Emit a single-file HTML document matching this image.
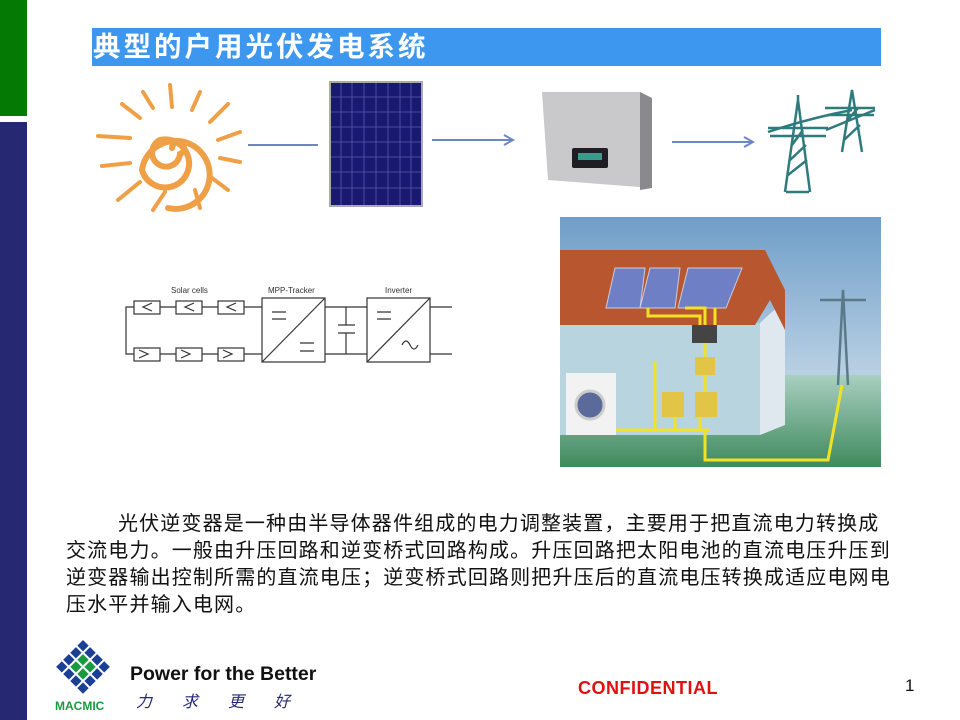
<!DOCTYPE html>
<html><head><meta charset="utf-8"><style>
*{margin:0;padding:0}
body{width:960px;height:720px;position:relative;background:#fff;overflow:hidden;font-family:"Liberation Sans","Noto Sans CJK SC",sans-serif}
.abs{position:absolute}
#para{position:absolute;left:66px;top:511px;font-size:20px;line-height:27px;letter-spacing:1.15px;color:#111;white-space:nowrap;font-family:"Liberation Sans","WenQuanYi Zen Hei","Noto Sans CJK SC",sans-serif}
</style></head><body>
<div class="abs" style="left:0;top:0;width:27px;height:116px;background:#047a04"></div>
<div class="abs" style="left:0;top:122px;width:27px;height:598px;background:#262872"></div>
<div class="abs" style="left:92px;top:28px;width:789px;height:38px;background:#3d97ee"></div>
<div class="abs" style="left:93px;top:29px;font-size:27.5px;font-weight:bold;color:#fff;letter-spacing:3px;line-height:36px;font-family:'Liberation Sans','Noto Sans CJK SC',sans-serif">典型的户用光伏发电系统</div>

<svg class="abs" style="left:0;top:0" width="960" height="500">
<g stroke="#ef9f45" stroke-linecap="round" fill="none">
<path d="M172 148 a6 6 0 1 1 8 6 a14 14 0 1 1 -20 -14 a24 24 0 1 1 -18 30 a34 34 0 1 1 26 38" stroke-width="6"/>
<g stroke-width="4">
<line x1="172" y1="107" x2="170" y2="85"/><line x1="192" y1="110" x2="200" y2="92"/><line x1="210" y1="122" x2="228" y2="104"/>
<line x1="218" y1="140" x2="240" y2="132"/><line x1="220" y1="158" x2="240" y2="162"/><line x1="212" y1="178" x2="228" y2="190"/>
<line x1="195" y1="190" x2="200" y2="208"/><line x1="165" y1="192" x2="153" y2="210"/><line x1="140" y1="182" x2="118" y2="200"/>
<line x1="130" y1="163" x2="102" y2="166"/><line x1="130" y1="138" x2="98" y2="136"/><line x1="140" y1="118" x2="122" y2="104"/>
<line x1="153" y1="108" x2="143" y2="92"/></g></g>
<line x1="248" y1="145" x2="318" y2="145" stroke="#6f86c4" stroke-width="2"/>
<rect x="330" y="82" width="92" height="124" fill="#1a1970" stroke="#aaa" stroke-width="2"/>
<g stroke="#5a5ab0" stroke-width="0.8">
<line x1="341" y1="83" x2="341" y2="205"/><line x1="352" y1="83" x2="352" y2="205"/><line x1="364" y1="83" x2="364" y2="205"/><line x1="376" y1="83" x2="376" y2="205"/><line x1="388" y1="83" x2="388" y2="205"/><line x1="400" y1="83" x2="400" y2="205"/><line x1="411" y1="83" x2="411" y2="205"/>
<line x1="331" y1="97" x2="421" y2="97"/><line x1="331" y1="112" x2="421" y2="112"/><line x1="331" y1="127" x2="421" y2="127"/><line x1="331" y1="142" x2="421" y2="142"/><line x1="331" y1="157" x2="421" y2="157"/><line x1="331" y1="172" x2="421" y2="172"/><line x1="331" y1="188" x2="421" y2="188"/>
</g>
<g stroke="#6f86c4" stroke-width="2" fill="none"><line x1="432" y1="140" x2="512" y2="140"/><path d="M504 135 L513 140 L504 145"/>
<line x1="672" y1="142" x2="752" y2="142"/><path d="M744 137 L753 142 L744 147"/></g>
<path d="M542 92 L640 92 L652 98 L652 188 L548 180 Z" fill="#c9c9cb"/>
<path d="M640 92 L652 98 L652 188 L640 190 Z" fill="#8a8a8e"/>
<rect x="572" y="148" width="36" height="20" rx="2" fill="#1e1e24"/>
<rect x="578" y="153" width="24" height="7" fill="#3a9a8c"/>
<g stroke="#2e7b7e" stroke-width="2.5" fill="none">
<path d="M785 192 L798 100 L810 192 M788 175 L807 160 M790 160 L806 145 M792 145 L803 130 M786 192 L809 192"/>
<path d="M768 128 L828 128 M770 136 L826 136 M798 100 L798 95"/>
<path d="M842 152 L852 90 L862 152 M844 140 L860 125 M846 122 L858 108 M825 108 L875 108 M828 115 L874 115"/>
<path d="M768 132 Q810 118 852 110 M826 130 Q850 120 875 110"/>
</g>
<g stroke="#333" stroke-width="1.2" fill="none">
<text x="171" y="293" font-size="8" fill="#333" stroke="none" font-family="Liberation Sans">Solar cells</text>
<text x="268" y="293" font-size="8" fill="#333" stroke="none" font-family="Liberation Sans">MPP-Tracker</text>
<text x="385" y="293" font-size="8" fill="#333" stroke="none" font-family="Liberation Sans">Inverter</text>
<rect x="134" y="301" width="26" height="13"/><rect x="176" y="301" width="26" height="13"/><rect x="218" y="301" width="26" height="13"/>
<path d="M152 303 L143 307 L152 311 M194 303 L185 307 L194 311 M236 303 L227 307 L236 311"/>
<rect x="134" y="348" width="26" height="13"/><rect x="176" y="348" width="26" height="13"/><rect x="218" y="348" width="26" height="13"/>
<path d="M139 350 L148 354 L139 358 M181 350 L190 354 L181 358 M223 350 L232 354 L223 358"/>
<path d="M134 307 L126 307 L126 354 L134 354 M160 307 L176 307 M202 307 L218 307 M244 307 L262 307 M160 354 L176 354 M202 354 L218 354 M244 354 L262 354"/>
<rect x="262" y="298" width="63" height="64"/><line x1="262" y1="362" x2="325" y2="298"/>
<path d="M272 312 L286 312 M272 319 L286 319 M300 343 L314 343 M300 351 L314 351"/>
<path d="M325 307 L367 307 M325 354 L367 354 M346 307 L346 325 M346 333 L346 354 M338 325 L355 325 M338 333 L355 333"/>
<rect x="367" y="298" width="63" height="64"/><line x1="367" y1="362" x2="430" y2="298"/>
<path d="M377 312 L391 312 M377 319 L391 319 M402 345 q4 -8 8 0 q4 8 8 0"/>
<path d="M430 307 L452 307 M430 354 L452 354"/>
</g>
<defs><linearGradient id="sky" x1="0" y1="0" x2="0" y2="1"><stop offset="0" stop-color="#6f9ec8"/><stop offset="1" stop-color="#e4eef4"/></linearGradient>
<linearGradient id="gr" x1="0" y1="0" x2="0" y2="1"><stop offset="0" stop-color="#a9cfc0"/><stop offset="1" stop-color="#3f8a5e"/></linearGradient></defs>
<rect x="560" y="217" width="321" height="250" fill="url(#sky)"/>
<rect x="560" y="375" width="321" height="92" fill="url(#gr)"/>
<path d="M560 323 L760 323 L760 435 L560 435 Z" fill="#b8d4df"/>
<path d="M760 323 L785 300 L785 425 L760 435 Z" fill="#dfe8ee"/>
<path d="M560 250 L765 250 L785 290 L785 330 L770 300 L755 325 L560 325 Z" fill="#b8572f"/>
<path d="M615 268 L645 268 L640 308 L606 308 Z M650 268 L680 268 L675 308 L640 308 Z M688 268 L742 268 L726 308 L678 308 Z" fill="#6f7fc6" stroke="#ccd" stroke-width="1"/>
<rect x="692" y="325" width="25" height="18" fill="#444"/>
<rect x="695" y="357" width="20" height="18" fill="#e2c547"/>
<rect x="662" y="392" width="22" height="25" fill="#e2c547"/><rect x="695" y="392" width="22" height="25" fill="#e2c547"/>
<rect x="566" y="373" width="50" height="62" fill="#f2f2f2"/><circle cx="590" cy="405" r="14" fill="#5a6a9a" stroke="#ccc" stroke-width="3"/>
<g stroke="#f2e224" stroke-width="3" fill="none">
<path d="M648 308 L648 316 L700 316 L700 325 M685 308 L705 308 L705 325 M715 308 L715 325 M705 343 L705 357 M705 375 L705 392 M616 430 L710 430 M700 417 L700 430 M675 417 L675 430 M655 362 L655 430 M705 430 L705 460 L828 460 L842 385"/>
</g>
<path d="M838 385 L843 290 L848 385 M820 300 L866 300" stroke="#5a7a8a" stroke-width="2.5" fill="none"/>
</svg>

<div id="para"><span style="padding-left:52px"></span>光伏逆变器是一种由半导体器件组成的电力调整装置，主要用于把直流电力转换成<br>交流电力。一般由升压回路和逆变桥式回路构成。升压回路把太阳电池的直流电压升压到<br>逆变器输出控制所需的直流电压；逆变桥式回路则把升压后的直流电压转换成适应电网电<br>压水平并输入电网。</div>

<svg class="abs" style="left:54px;top:638px" width="60" height="60">
<g transform="translate(29,2) rotate(45)">
<g fill="#1b3f94">
<rect x="0" y="0" width="8" height="8"/><rect x="10" y="0" width="8" height="8"/><rect x="20" y="0" width="8" height="8"/><rect x="30" y="0" width="8" height="8"/>
<rect x="0" y="10" width="8" height="8"/><rect x="30" y="10" width="8" height="8"/>
<rect x="0" y="20" width="8" height="8"/><rect x="30" y="20" width="8" height="8"/>
<rect x="0" y="30" width="8" height="8"/><rect x="10" y="30" width="8" height="8"/><rect x="20" y="30" width="8" height="8"/><rect x="30" y="30" width="8" height="8"/></g>
<g fill="#1a9a40"><rect x="10" y="10" width="8" height="8"/><rect x="20" y="10" width="8" height="8"/><rect x="10" y="20" width="8" height="8"/><rect x="20" y="20" width="8" height="8"/></g>
</g></svg>
<div class="abs" style="left:55px;top:699px;font-size:12px;font-weight:bold;color:#1a9a40">MACMIC</div>
<div class="abs" style="left:130px;top:663px;font-size:19.5px;font-weight:bold;color:#111">Power for the Better</div>
<div class="abs" style="left:136px;top:688px;font-size:16px;font-style:italic;color:#262872;letter-spacing:30px">力求更好</div>
<div class="abs" style="left:578px;top:678px;font-size:18px;font-weight:bold;color:#e01010;letter-spacing:0.5px">CONFIDENTIAL</div>
<div class="abs" style="left:905px;top:676px;font-size:17px;color:#111">1</div>
</body></html>
